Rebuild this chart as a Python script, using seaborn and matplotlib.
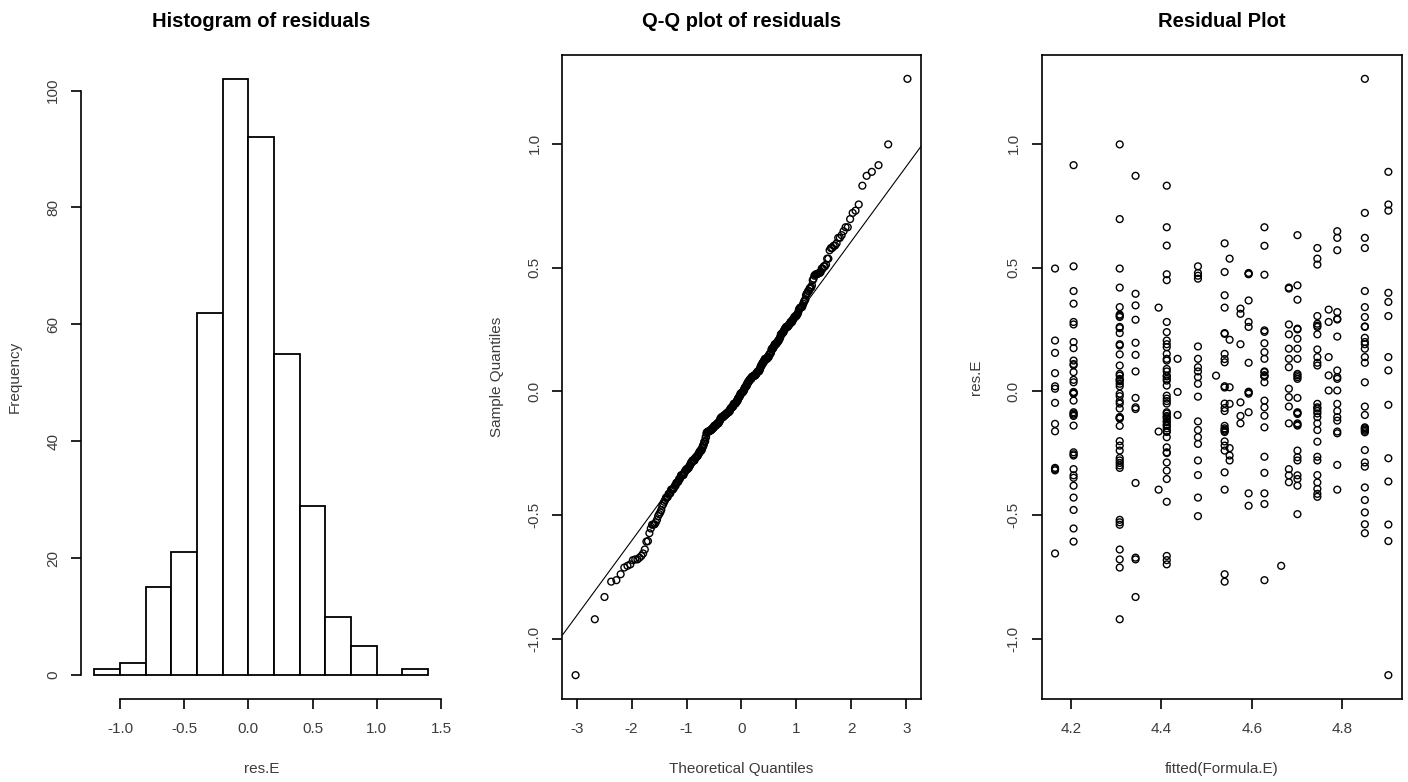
import numpy as np
import pandas as pd
import seaborn as sns
import matplotlib.pyplot as plt
from statistics import NormalDist

# fitted values of the model (one per column in the residual plot)
fitted_levels = [4.165, 4.206, 4.308, 4.343, 4.394, 4.412, 4.436, 4.481, 4.521, 4.540, 4.551,
                 4.575, 4.593, 4.628, 4.665, 4.682, 4.701, 4.745, 4.770, 4.789, 4.850, 4.902]

# residuals, one list per fitted value
res_01 = [0.496, 0.205, 0.155, 0.073, 0.02, 0.01, -0.047, -0.132, -0.162, -0.31, -0.315, -0.32, -0.656]
res_02 = [0.914, 0.505, 0.405, 0.354, 0.28, 0.27, 0.199, 0.174, 0.124, 0.11, 0.105, 0.077, 0.046, 0.036,
          -0.003, -0.005, -0.008, -0.01, -0.038, -0.085, -0.09, -0.095, -0.1, -0.139, -0.247, -0.255,
          -0.26, -0.315, -0.34, -0.35, -0.382, -0.43, -0.48, -0.555, -0.608]
res_03 = [0.998, 0.696, 0.496, 0.419, 0.34, 0.31, 0.305, 0.3, 0.26, 0.255, 0.235, 0.19, 0.185, 0.149,
          0.104, 0.07, 0.063, 0.05, 0.045, 0.04, 0.03, 0.02, -0.01, -0.02, -0.04, -0.05, -0.07, -0.105,
          -0.105, -0.11, -0.11, -0.14, -0.202, -0.22, -0.24, -0.27, -0.28, -0.29, -0.3, -0.31, -0.52,
          -0.53, -0.54, -0.64, -0.68, -0.713, -0.922]
res_04 = [0.871, 0.394, 0.347, 0.289, 0.196, 0.147, 0.08, -0.027, -0.065, -0.072, -0.371, -0.673, -0.68, -0.832]
res_05 = [0.338, -0.163, -0.398]
res_06 = [0.831, 0.663, 0.589, 0.473, 0.449, 0.28, 0.239, 0.205, 0.19, 0.178, 0.151, 0.131, 0.124, 0.09,
          0.08, 0.063, 0.06, 0.05, 0.043, 0.023, -0.018, -0.03, -0.04, -0.05, -0.085, -0.09, -0.1, -0.105,
          -0.11, -0.12, -0.125, -0.135, -0.14, -0.15, -0.16, -0.165, -0.186, -0.227, -0.247, -0.25,
          -0.288, -0.321, -0.355, -0.447, -0.666, -0.683, -0.7]
res_07 = [0.131, -0.003, -0.096]
res_08 = [0.505, 0.478, 0.467, 0.455, 0.181, 0.131, 0.097, 0.08, 0.057, 0.03, -0.022, -0.122, -0.157,
          -0.186, -0.213, -0.28, -0.339, -0.43, -0.505]
res_09 = [0.063]
res_10 = [0.598, 0.482, 0.388, 0.338, 0.235, 0.232, 0.151, 0.13, 0.117, 0.02, 0.015, -0.05, -0.068, -0.08,
          -0.14, -0.15, -0.155, -0.16, -0.165, -0.203, -0.22, -0.24, -0.328, -0.398, -0.74, -0.77]
res_11 = [0.536, 0.208, 0.016, -0.051, -0.23, -0.26, -0.28]
res_12 = [0.334, 0.313, 0.19, -0.045, -0.1, -0.13]
res_13 = [0.478, 0.475, 0.473, 0.367, 0.28, 0.26, 0.115, -0.002, -0.005, -0.01, -0.085, -0.413, -0.463]
res_14 = [0.663, 0.588, 0.471, 0.246, 0.24, 0.194, 0.158, 0.131, 0.08, 0.077, 0.065, 0.06, 0.06, 0.036,
          -0.038, -0.065, -0.099, -0.146, -0.265, -0.33, -0.413, -0.456, -0.764]
res_15 = [-0.706]
res_16 = [0.419, 0.415, 0.27, 0.23, 0.172, 0.131, 0.097, 0.01, -0.024, -0.062, -0.13, -0.315,
          -0.34, -0.368]
res_17 = [0.631, 0.428, 0.37, 0.253, 0.25, 0.212, 0.172, 0.131, 0.07, 0.064, 0.057, 0.05, -0.027, -0.085,
          -0.088, -0.092, -0.13, -0.135, -0.139, -0.24, -0.267, -0.28, -0.34, -0.355, -0.382, -0.497]
res_18 = [0.579, 0.536, 0.512, 0.304, 0.273, 0.265, 0.26, 0.23, 0.169, 0.138, 0.115, 0.104, -0.051,
          -0.065, -0.07, -0.08, -0.09, -0.105, -0.13, -0.157, -0.204, -0.265, -0.28, -0.339, -0.369,
          -0.395, -0.415, -0.427]
res_19 = [0.33, 0.28, 0.138, 0.064, 0.003]
res_20 = [0.647, 0.62, 0.57, 0.32, 0.293, 0.29, 0.221, 0.084, 0.057, 0.05, 0.003, -0.051, -0.08, -0.105,
          -0.119, -0.163, -0.17, -0.298, -0.398]
res_21 = [1.263, 0.721, 0.62, 0.579, 0.405, 0.34, 0.3, 0.262, 0.26, 0.216, 0.199, 0.19, 0.172, 0.138,
          0.115, 0.036, -0.062, -0.096, -0.146, -0.15, -0.155, -0.16, -0.166, -0.238, -0.288, -0.305,
          -0.389, -0.44, -0.49, -0.538, -0.574]
res_22 = [0.887, 0.755, 0.73, 0.398, 0.361, 0.304, 0.138, 0.084, -0.055, -0.271, -0.365, -0.539,
          -0.606, -1.148]

hist_edges = [-1.2, -1.0, -0.8, -0.6, -0.4, -0.2, 0.0, 0.2, 0.4, 0.6, 0.8, 1.0, 1.2, 1.4]
hist_xticks = [-1.0, -0.5, 0.0, 0.5, 1.0, 1.5]
hist_yticks = [0, 20, 40, 60, 80, 100]
qq_xticks = [-3, -2, -1, 0, 1, 2, 3]
res_yticks = [-1.0, -0.5, 0.0, 0.5, 1.0]
fit_xticks = [4.2, 4.4, 4.6, 4.8]

groups = [res_01, res_02, res_03, res_04, res_05, res_06, res_07, res_08, res_09, res_10, res_11,
          res_12, res_13, res_14, res_15, res_16, res_17, res_18, res_19, res_20, res_21, res_22]
df = pd.DataFrame({
    'fitted': [f for f, g in zip(fitted_levels, groups) for _ in g],
    'res': [r for g in groups for r in g],
})

# normal Q-Q values like R's qqnorm / qqline
n = len(df)
sample_q = np.sort(df['res'].values)
theo_q = np.array([NormalDist().inv_cdf((i + 0.5) / n) for i in range(n)])
q1, q3 = np.quantile(sample_q, [0.25, 0.75])
z1, z3 = NormalDist().inv_cdf(0.25), NormalDist().inv_cdf(0.75)
slope = (q3 - q1) / (z3 - z1)
intercept = q1 - slope * z1

sns.set_style('white')
plt.rcParams['font.family'] = ['Liberation Sans', 'DejaVu Sans']
plt.rcParams['axes.unicode_minus'] = False
plt.rcParams['axes.linewidth'] = 1.2

W, H = 1408, 782
fig = plt.figure(figsize=(W / 100, H / 100), dpi=100)
ax1 = fig.add_axes([81 / W, 83 / H, 360.5 / W, 644 / H])
ax2 = fig.add_axes([562.3 / W, 83 / H, 358.4 / W, 644 / H])
ax3 = fig.add_axes([1041.7 / W, 83 / H, 360 / W, 644 / H])

txt_col = '#3c3c3c'


def style_axes(ax, title, xlabel, ylabel):
    ax.tick_params(direction='out', length=7.5, width=1.2, color='black', labelcolor=txt_col,
                   labelsize=11, bottom=True, left=True)
    ax.tick_params(axis='x', pad=9)
    ax.tick_params(axis='y', pad=7.5, labelrotation=90)
    plt.setp(ax.get_yticklabels(), va='center')
    ax.set_title(title, fontsize=14.5, fontweight='bold', pad=20, color='black')
    ax.set_xlabel(xlabel, fontsize=11, color=txt_col, va='top')
    ax.set_ylabel(ylabel, fontsize=11, color=txt_col)
    ax.xaxis.set_label_coords(0.5, -0.098)
    ax.yaxis.set_label_coords(-0.163, 0.5)
    for sp in ax.spines.values():
        sp.set_color('black')
        sp.set_linewidth(1.2)


# histogram
sns.histplot(x=df['res'], bins=hist_edges, ax=ax1, color='white', edgecolor='black',
             linewidth=1.3, alpha=1)
ax1.use_sticky_edges = False
ax1.margins(0.04)
ax1.set_xticks(hist_xticks)
ax1.set_xticklabels([f'{v:.1f}' for v in hist_xticks])
ax1.set_yticks(hist_yticks)
style_axes(ax1, 'Histogram of residuals', 'res.E', 'Frequency')
ax1.spines['top'].set_visible(False)
ax1.spines['right'].set_visible(False)
ax1.spines['left'].set_bounds(hist_yticks[0], hist_yticks[-1])
ax1.spines['bottom'].set_bounds(hist_xticks[0], hist_xticks[-1])

# Q-Q plot
sns.scatterplot(x=theo_q, y=sample_q, ax=ax2, marker='o', s=24, edgecolor='black', linewidth=1.0)
ax2.collections[-1].set_facecolor('none')
ax2.axline((0, intercept), slope=slope, color='black', linewidth=0.8)
ax2.margins(0.04)
ax2.set_xticks(qq_xticks)
ax2.set_yticks(res_yticks)
ax2.set_yticklabels([f'{v:.1f}' for v in res_yticks])
style_axes(ax2, 'Q-Q plot of residuals', 'Theoretical Quantiles', 'Sample Quantiles')

# residual plot
sns.scatterplot(data=df, x='fitted', y='res', ax=ax3, marker='o', s=24, edgecolor='black', linewidth=1.0)
ax3.collections[-1].set_facecolor('none')
ax3.margins(0.04)
ax3.set_xticks(fit_xticks)
ax3.set_xticklabels([f'{v:.1f}' for v in fit_xticks])
ax3.set_yticks(res_yticks)
ax3.set_yticklabels([f'{v:.1f}' for v in res_yticks])
style_axes(ax3, 'Residual Plot', 'fitted(Formula.E)', 'res.E')

fig.savefig('out.png', dpi=100, facecolor='white')
